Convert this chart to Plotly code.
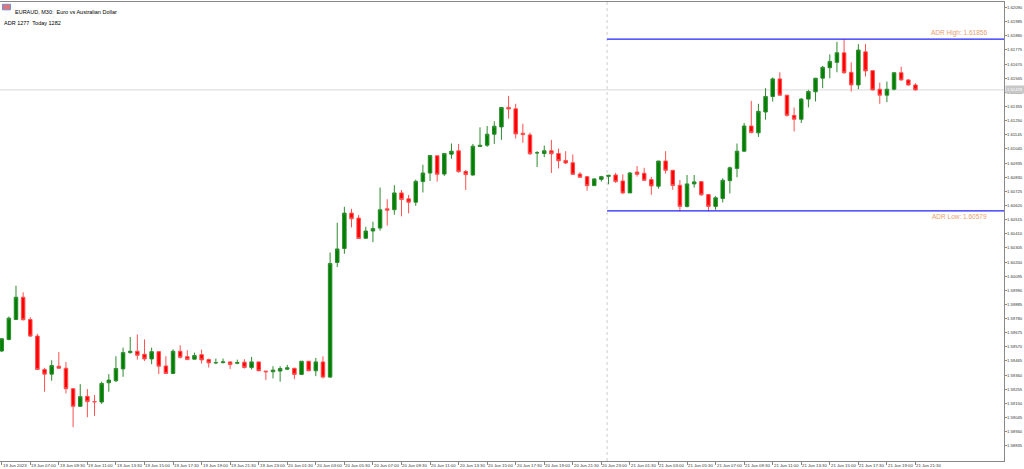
import plotly.graph_objects as go

opens = [1.59539,1.59625,1.59773,1.59938,1.59773,1.59650,1.59402,1.59367,1.59426,1.59411,
1.59259,1.59128,1.59202,1.59163,1.59160,1.59303,1.59318,1.59406,1.59527,1.59537,
1.59515,1.59480,1.59534,1.59428,1.59372,1.59537,1.59497,1.59478,1.59512,1.59475,
1.59451,1.59453,1.59458,1.59448,1.59456,1.59416,1.59458,1.59390,1.59385,1.59390,
1.59404,1.59411,1.59365,1.59463,1.59392,1.59458,1.59345,1.60197,1.60300,1.60563,
1.60526,1.60376,1.60430,1.60452,1.60595,1.60588,1.60713,1.60669,1.60644,1.60797,
1.60861,1.60989,1.60853,1.61001,1.61026,1.60873,1.60846,1.61058,1.61067,1.61149,
1.61203,1.61348,1.61338,1.61156,1.61144,1.61011,1.61006,1.61026,1.61006,1.60954,
1.60937,1.60853,1.60834,1.60767,1.60814,1.60836,1.60846,1.60802,1.60713,1.60868,
1.60859,1.60812,1.60763,1.60950,1.60881,1.60770,1.60613,1.60780,1.60797,1.60701,
1.60613,1.60672,1.60804,1.60895,1.61023,1.61210,1.61159,1.61314,1.61429,1.61560,
1.61439,1.61289,1.61260,1.61410,1.61464,1.61565,1.61643,1.61683,1.61754,1.61609,
1.61515,1.61761,1.61621,1.61483,1.61439,1.61483,1.61606,1.61552,1.61515]
highs = [1.59635,1.59795,1.60024,1.59975,1.59790,1.59667,1.59414,1.59470,1.59532,1.59458,
1.59259,1.59293,1.59256,1.59212,1.59311,1.59367,1.59500,1.59564,1.59643,1.59662,
1.59625,1.59564,1.59534,1.59500,1.59552,1.59581,1.59544,1.59527,1.59549,1.59483,
1.59483,1.59483,1.59458,1.59475,1.59478,1.59495,1.59458,1.59390,1.59426,1.59426,
1.59436,1.59411,1.59463,1.59463,1.59488,1.59500,1.60270,1.60492,1.60610,1.60595,
1.60548,1.60462,1.60499,1.60753,1.60666,1.60770,1.60735,1.60698,1.60812,1.60922,
1.60991,1.60989,1.61006,1.61080,1.61077,1.60883,1.61077,1.61200,1.61210,1.61245,
1.61348,1.61434,1.61375,1.61227,1.61161,1.61023,1.61065,1.61107,1.61043,1.61023,
1.60999,1.60868,1.60834,1.60821,1.60839,1.60844,1.60863,1.60851,1.60868,1.60913,
1.60900,1.60832,1.60950,1.61023,1.60881,1.60809,1.60846,1.60846,1.60797,1.60701,
1.60689,1.60822,1.60908,1.61080,1.61232,1.61397,1.61375,1.61491,1.61570,1.61609,
1.61439,1.61348,1.61417,1.61478,1.61565,1.61656,1.61742,1.61835,1.61855,1.61683,
1.61818,1.61818,1.61621,1.61533,1.61540,1.61606,1.61651,1.61560,1.61528]
lows = [1.59532,1.59618,1.59773,1.59766,1.59643,1.59397,1.59237,1.59318,1.59409,1.59224,
1.58973,1.59126,1.59047,1.59057,1.59146,1.59237,1.59308,1.59347,1.59520,1.59475,
1.59465,1.59441,1.59367,1.59372,1.59372,1.59483,1.59475,1.59478,1.59446,1.59416,
1.59441,1.59446,1.59406,1.59441,1.59409,1.59402,1.59390,1.59323,1.59335,1.59311,
1.59397,1.59330,1.59360,1.59390,1.59352,1.59335,1.59340,1.60162,1.60261,1.60457,
1.60374,1.60376,1.60347,1.60433,1.60470,1.60551,1.60539,1.60561,1.60617,1.60716,
1.60802,1.60797,1.60839,1.60967,1.60863,1.60735,1.60841,1.61058,1.61055,1.61077,
1.61107,1.61264,1.61117,1.61085,1.60994,1.60905,1.60979,1.60861,1.60895,1.60927,
1.60846,1.60826,1.60730,1.60765,1.60797,1.60777,1.60787,1.60704,1.60713,1.60834,
1.60802,1.60699,1.60745,1.60856,1.60736,1.60578,1.60605,1.60753,1.60691,1.60578,
1.60588,1.60642,1.60709,1.60829,1.61018,1.61156,1.61129,1.61257,1.61392,1.61434,
1.61279,1.61169,1.61232,1.61348,1.61392,1.61491,1.61565,1.61609,1.61597,1.61466,
1.61483,1.61577,1.61474,1.61375,1.61387,1.61474,1.61547,1.61508,1.61474]
closes = [1.59630,1.59783,1.59938,1.59771,1.59650,1.59402,1.59367,1.59431,1.59411,1.59259,
1.59128,1.59200,1.59163,1.59162,1.59298,1.59323,1.59409,1.59527,1.59537,1.59507,
1.59480,1.59534,1.59426,1.59372,1.59537,1.59492,1.59475,1.59505,1.59473,1.59451,
1.59453,1.59458,1.59438,1.59453,1.59416,1.59458,1.59392,1.59385,1.59397,1.59409,
1.59414,1.59365,1.59463,1.59392,1.59458,1.59345,1.60189,1.60297,1.60563,1.60521,
1.60374,1.60430,1.60448,1.60588,1.60585,1.60713,1.60664,1.60644,1.60799,1.60861,
1.60991,1.60851,1.61006,1.61023,1.60871,1.60849,1.61060,1.61067,1.61149,1.61208,
1.61348,1.61336,1.61151,1.61146,1.61004,1.61011,1.61026,1.61004,1.60952,1.60935,
1.60851,1.60829,1.60767,1.60817,1.60834,1.60844,1.60797,1.60713,1.60861,1.60851,
1.60807,1.60765,1.60950,1.60881,1.60768,1.60613,1.60780,1.60795,1.60699,1.60613,
1.60677,1.60807,1.60900,1.61023,1.61210,1.61161,1.61319,1.61429,1.61560,1.61439,
1.61289,1.61260,1.61410,1.61466,1.61565,1.61646,1.61690,1.61754,1.61606,1.61515,
1.61774,1.61619,1.61478,1.61439,1.61483,1.61606,1.61552,1.61515,1.61478]

time_labels = ["19 Jun 2023","19 Jun 07:00","19 Jun 09:30","19 Jun 11:00","19 Jun 13:30","19 Jun 15:00",
"19 Jun 17:30","19 Jun 19:00","19 Jun 21:30","19 Jun 23:00","20 Jun 01:30","20 Jun 03:00","20 Jun 05:30",
"20 Jun 07:00","20 Jun 09:30","20 Jun 11:00","20 Jun 13:30","20 Jun 15:00","20 Jun 17:30","20 Jun 19:00",
"20 Jun 21:30","20 Jun 23:00","21 Jun 01:30","21 Jun 03:00","21 Jun 05:30","21 Jun 07:00","21 Jun 09:30",
"21 Jun 11:00","21 Jun 13:30","21 Jun 15:00","21 Jun 17:30","21 Jun 19:00","21 Jun 21:30"]
price_ticks = [round(1.58835 + 0.00105*k, 5) for k in range(32)]
adr_high = 1.61856
adr_low = 1.60579
adr_start = 84.8
last_price = closes[-1]

FONT = "Liberation Sans"
x = list(range(len(closes)))
fig = go.Figure(go.Candlestick(
    x=x, open=opens, high=highs, low=lows, close=closes,
    increasing=dict(line=dict(color="#2e8b2e", width=1), fillcolor="#008000"),
    decreasing=dict(line=dict(color="#ff5050", width=1), fillcolor="#ff0000"),
    whiskerwidth=0, hoverinfo="skip"))

fig.add_shape(type="line", xref="x", yref="y", x0=-1, x1=141, y0=last_price, y1=last_price,
              line=dict(color="#d8d8d8", width=1), layer="below")
fig.add_shape(type="line", xref="x", yref="paper", x0=adr_start, x1=adr_start, y0=0, y1=1,
              line=dict(color="#cccccc", width=1, dash="dot"), layer="below")
for v, txt in [(adr_high, "ADR High: 1.61856"), (adr_low, "ADR Low: 1.60579")]:
    fig.add_shape(type="line", xref="x", yref="y", x0=adr_start, x1=141, y0=v, y1=v,
                  line=dict(color="#2020ff", width=1.3))
    fig.add_annotation(x=138.3, y=v, xref="x", yref="y", text=txt, showarrow=False,
                       xanchor="right", yanchor=("bottom" if v == adr_high else "top"),
                       font=dict(size=6.5, color="#e8a070", family=FONT))

for k, lab in enumerate(time_labels):
    fig.add_annotation(x=4*k, y=0, xref="x", yref="paper", text=lab, showarrow=False,
                       xanchor="left", yanchor="top", xshift=-1, yshift=0,
                       font=dict(size=4.3, color="#333", family=FONT))
for t in price_ticks:
    fig.add_annotation(x=1, y=t, xref="paper", yref="y", text="%.5f" % t, showarrow=False,
                       xanchor="left", xshift=1, font=dict(size=4.2, color="#333", family=FONT))

fig.add_annotation(x=1.0, y=last_price, xref="paper", yref="y", text="%.5f" % last_price,
                   showarrow=False, xanchor="left", xshift=1, bgcolor="#c8c8c8",
                   font=dict(size=4.2, color="#ffffff", family=FONT), borderpad=1)

fig.add_shape(type="rect", xref="paper", yref="paper", x0=0.0025, x1=0.0105, y0=0.983, y1=0.995,
              fillcolor="#e57373", line=dict(color="#6a8fd8", width=1))
fig.add_annotation(x=0.013, y=0.989, xref="paper", yref="paper", text="EURAUD, M30:  Euro vs Australian Dollar",
                   showarrow=False, xanchor="left", font=dict(size=5.5, color="#000", family=FONT))
fig.add_annotation(x=0.002, y=0.965, xref="paper", yref="paper", text="ADR 1277  Today 1282",
                   showarrow=False, xanchor="left", font=dict(size=5.5, color="#000", family=FONT))

fig.update_layout(
    width=1024, height=469, margin=dict(l=0, r=20, t=2, b=8, autoexpand=False),
    paper_bgcolor="white", plot_bgcolor="white", showlegend=False,
    xaxis=dict(rangeslider=dict(visible=False), range=[-0.24, 140.4], automargin=False,
               tickvals=[4*k for k in range(len(time_labels))], showticklabels=False,
               ticks="outside", ticklen=3, tickcolor="#888", showgrid=False, zeroline=False,
               showline=True, linecolor="#888", mirror=True),
    yaxis=dict(side="right", range=[1.58722, 1.62131], tickvals=price_ticks, automargin=False,
               showticklabels=False, ticks="outside", ticklen=2,
               tickcolor="#888", showgrid=False, zeroline=False, showline=True,
               linecolor="#888", mirror=True),
)
fig.write_html("out.html", config={"displayModeBar": False},
               post_script="document.body.style.margin='0';document.body.style.overflow='hidden';")
